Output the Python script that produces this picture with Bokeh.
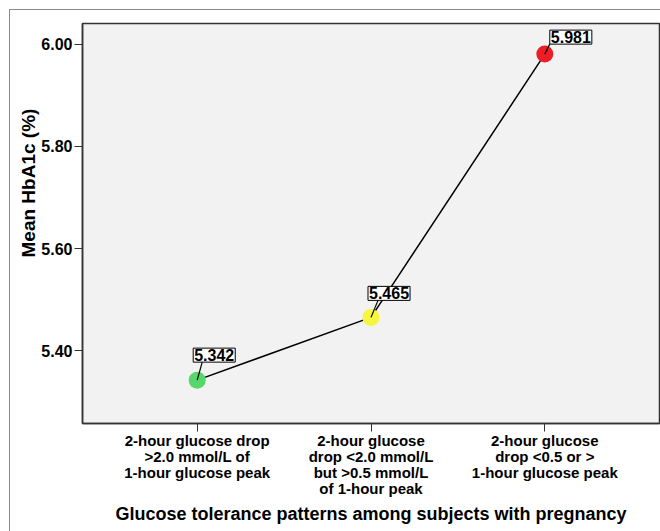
from bokeh.plotting import figure
from bokeh.models import FixedTicker, Label, Range1d, Title
from bokeh.embed import file_html
from bokeh.resources import INLINE

# ---- data ----
categories = [
    "2-hour glucose drop\n>2.0 mmol/L of\n1-hour glucose peak",
    "2-hour glucose\ndrop <2.0 mmol/L\nbut >0.5 mmol/L\nof 1-hour peak",
    "2-hour glucose\ndrop <0.5 or >\n1-hour glucose peak",
]
positions = [1, 2, 3]
mean_hba1c = [5.342, 5.465, 5.981]
point_colors = ["#57d66c", "#f6f640", "#ee1c25"]
y_ticks = [5.40, 5.60, 5.80, 6.00]
y_tick_labels = ["5.40", "5.60", "5.80", "6.00"]
x_title = "Glucose tolerance patterns among subjects with pregnancy"
y_title = "Mean HbA1c (%)"

# ---- style ----
FONT = "Liberation Sans"
X0, X1 = 0.34, 3.66
Y0, Y1 = 5.257, 6.041
FRAME_W, FRAME_H = 577, 400
xs = FRAME_W / (X1 - X0)
ys = FRAME_H / (Y1 - Y0)
box_dx = [-4, -3, 5]
box_dy = [18, 17, 10]
lead_dx = [5, 7, 5]
lead_dy = [18, 17, 10]

p = figure(
    frame_width=FRAME_W, frame_height=FRAME_H,
    x_range=Range1d(X0, X1), y_range=Range1d(Y0, Y1),
    min_border_left=72, min_border_right=1, min_border_top=13, min_border_bottom=108,
    output_backend="svg", toolbar_location=None,
    background_fill_color="#f2f2f2", border_fill_color="white",
)
p.styles = {"border-left": "1px solid #8a8a8a", "border-top": "1px solid #8a8a8a",
            "margin-left": "9px", "margin-top": "9px"}
p.outline_line_color = "#333333"
p.outline_line_width = 1.5
p.xgrid.visible = False
p.ygrid.visible = False

for ax in (p.xaxis[0], p.yaxis[0]):
    ax.axis_line_color = "#333333"
    ax.axis_line_width = 1.5
    ax.major_tick_line_color = "#333333"
    ax.major_tick_in = 0
    ax.major_tick_out = 8
    ax.minor_tick_line_color = None
    ax.major_label_text_font = FONT
    ax.major_label_text_font_style = "bold"
    ax.major_label_text_color = "black"

p.xaxis.ticker = FixedTicker(ticks=positions)
p.xaxis.major_label_overrides = {pos: lab for pos, lab in zip(positions, categories)}
p.xaxis.major_label_text_font_size = "15px"
p.xaxis.major_label_text_line_height = 0.95
p.xaxis.major_label_standoff = 0
p.xaxis.axis_label = x_title
p.xaxis.axis_label_text_font = FONT
p.xaxis.axis_label_text_font_style = "bold"
p.xaxis.axis_label_text_font_size = "18px"
p.xaxis.axis_label_text_color = "black"
p.xaxis.axis_label_standoff = 4

p.yaxis.ticker = FixedTicker(ticks=y_ticks)
p.yaxis.major_label_overrides = {t: lab for t, lab in zip(y_ticks, y_tick_labels)}
p.yaxis.major_label_text_font_size = "16px"
p.yaxis.major_label_standoff = 2

p.add_layout(Title(
    text=y_title, align="left", offset=166, standoff=0,
    text_font=FONT, text_font_style="bold", text_font_size="19px", text_color="black",
), "left")

p.line(positions, mean_hba1c, line_color="black", line_width=1.5)
p.scatter(positions, mean_hba1c, size=17, fill_color=point_colors, line_color=None)

x_lead = [x + dx / xs for x, dx in zip(positions, lead_dx)]
y_lead = [y + dy / ys for y, dy in zip(mean_hba1c, lead_dy)]
p.segment(x0=positions, y0=mean_hba1c, x1=x_lead, y1=y_lead, line_color="black", line_width=1.2)

for x, y, dx, dy in zip(positions, mean_hba1c, box_dx, box_dy):
    p.add_layout(Label(
        x=x, y=y, x_offset=dx, y_offset=dy, text=f"{y:.3f}",
        text_font=FONT, text_font_style="bold", text_font_size="16px",
        text_color="black", text_align="left", text_baseline="bottom",
        background_fill_color="white", border_line_color="black", border_line_width=1,
        padding=1,
    ))

open("out.html", "w").write(file_html(p, INLINE))
